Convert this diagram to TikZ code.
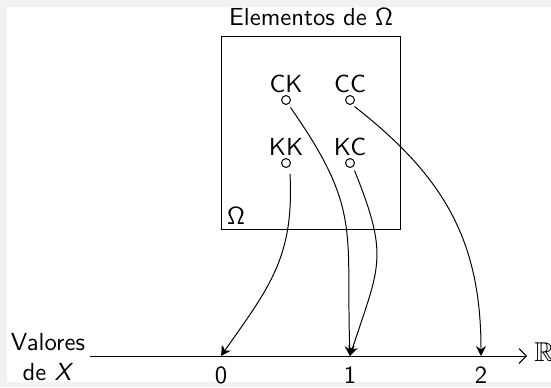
\documentclass[tikz,border=0pt]{standalone}
\usepackage{amssymb}
\usetikzlibrary{arrows.meta}
\begin{document}
\begin{tikzpicture}[x=0.405pt,y=-0.405pt,font=\sffamily,
  pt/.style={circle,draw,inner sep=0pt,minimum size=3.6pt},
  lbl/.style={inner sep=0pt,anchor=base},
  map/.style={-{Stealth[length=4pt,width=4pt]},thin}]
\fill[black!5] (0,0) rectangle (551,387);
\fill[white] (7,7) rectangle (551,382);
\useasboundingbox (0,0) rectangle (551,387);
\node[lbl] (title) at (311,25) {Elementos de Ω};
\draw (221,36) rectangle (400,229);
\node[lbl] (omega) at (236,224) {Ω};
\node[pt] (ck) at (286,100) {};
\node[pt] (cc) at (350,100) {};
\node[pt] (kk) at (286,163) {};
\node[pt] (kc) at (350,163) {};
\node[lbl] at (286,92) {CK};
\node[lbl] at (350,92) {CC};
\node[lbl] at (286,155) {KK};
\node[lbl] at (350,155) {KC};
\coordinate (a0) at (90,356);
\coordinate (aend) at (527,356);
\draw[-{Straight Barb[length=3pt]}] (a0) -- (aend);
\node[anchor=west,inner sep=1pt,scale=1.1] (R) at (531,352) {$\mathbb{R}$};
\coordinate (z) at (221,356);
\coordinate (o) at (350,356);
\coordinate (t) at (481,356);
\draw[black!40] (z) -- ++(0,-10);
\node[lbl] at (221,383) {0};
\node[lbl] at (350,383) {1};
\node[lbl] at (481,383) {2};
\node[lbl] at (48,350) {Valores};
\node[lbl] at (48,380) {de \textit{X}};
\draw[map] (kk.south) ++(4,6) to[out=-87,in=55,looseness=1.1] (z);
\draw[map] (ck.south east) ++(1,4) to[out=-55,in=92,looseness=1.25] (o);
\draw[map] (kc.south east) ++(1,4) to[out=-68,in=72,looseness=1.3] (o);
\draw[map] (cc.south east) ++(1,3) to[out=-38,in=90,looseness=1.05] (t);
\end{tikzpicture}
\end{document}
